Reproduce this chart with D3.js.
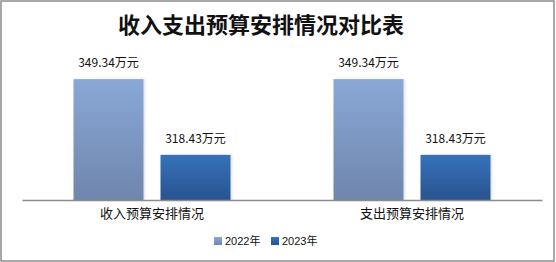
<!DOCTYPE html>
<html><head><meta charset="utf-8">
<script src="https://cdn.jsdelivr.net/npm/d3@7/dist/d3.min.js"></script>
<style>body{margin:0;background:#fff}svg{display:block}</style>
</head><body><svg id="c" width="556" height="262"></svg>
<script>
const categories = ["收入预算安排情况", "支出预算安排情况"];
const seriesNames = ["2022年", "2023年"];
const values2022 = [349.34, 349.34];
const values2023 = [318.43, 318.43];
const labelSuffix = "万元";

const svg = d3.select("#c");
const W = 556, H = 262;
svg.append("rect").attr("x",1).attr("y",1).attr("width",W-3).attr("height",H-2)
  .attr("fill","#fff").attr("stroke","#8c8c8c").attr("stroke-width",1.5);

const defs = svg.append("defs");
const grads = [["g0","#8aa8d6","#6f86ad"],["g1","#3572ba","#2a538f"]];
grads.forEach(([id,c1,c2])=>{
  const g = defs.append("linearGradient").attr("id",id).attr("x1",0).attr("y1",0).attr("x2",0).attr("y2",1);
  g.append("stop").attr("offset","0%").attr("stop-color",c1);
  g.append("stop").attr("offset","100%").attr("stop-color",c2);
});
const f = defs.append("filter").attr("id","sh").attr("x","-20%").attr("y","-20%").attr("width","150%").attr("height","150%");
f.append("feDropShadow").attr("dx",1.5).attr("dy",0).attr("stdDeviation",1).attr("flood-color","#000").attr("flood-opacity",0.12);

svg.append("text").attr("x",261).attr("y",33).attr("text-anchor","middle")
  .attr("font-family","'Noto Sans CJK SC'").attr("font-weight","bold").attr("font-size",22)
  .attr("fill","#111").text("收入支出预算安排情况对比表");

const left = 22, right = 542, baseY = 200, topY = 53;
const x0 = d3.scaleBand().domain(categories).range([left,right]).paddingInner(0).paddingOuter(0);
const groupW = 157;
const x1 = d3.scaleBand().domain(seriesNames)
  .range([(x0.bandwidth()-groupW)/2,(x0.bandwidth()+groupW)/2])
  .paddingInner(17/87).paddingOuter(0);
const y = d3.scaleLinear().domain([300,360]).range([baseY,topY]);

const data = [];
categories.forEach((c,i)=>{
  data.push({c, s:seriesNames[0], v:values2022[i], g:"g0"});
  data.push({c, s:seriesNames[1], v:values2023[i], g:"g1"});
});

svg.selectAll("rect.bar").data(data).join("rect").attr("class","bar")
  .attr("x",d=>x0(d.c)+x1(d.s)).attr("width",x1.bandwidth())
  .attr("y",d=>y(d.v)).attr("height",d=>baseY-y(d.v))
  .attr("fill",d=>`url(#${d.g})`).attr("filter","url(#sh)");

svg.selectAll("text.lbl").data(data).join("text").attr("class","lbl")
  .attr("x",d=>x0(d.c)+x1(d.s)+x1.bandwidth()/2).attr("y",d=>y(d.v)-12)
  .attr("text-anchor","middle").attr("font-family","'Noto Sans CJK SC'").attr("font-size",12)
  .attr("fill","#111").text(d=>d.v.toFixed(2)+labelSuffix);

const ax = svg.append("g").attr("transform",`translate(0,${baseY})`)
  .call(d3.axisBottom(x0).tickSize(0).tickPadding(9));
ax.select(".domain").attr("stroke","#8c8c8c").attr("stroke-width",1.5);
ax.selectAll("text").attr("font-family","'Noto Sans CJK SC'").attr("font-size",13).attr("fill","#111");

const leg = svg.append("g").attr("transform","translate(214,241)");
seriesNames.forEach((s,i)=>{
  const g = leg.append("g").attr("transform",`translate(${i*57},0)`);
  g.append("rect").attr("x",0).attr("y",-4).attr("width",8).attr("height",8).attr("fill",`url(#g${i})`);
  g.append("text").attr("x",11).attr("y",4).attr("font-family","'Liberation Sans','Noto Sans CJK SC'")
    .attr("font-size",11).attr("fill","#111").text(s);
});
</script></body></html>
